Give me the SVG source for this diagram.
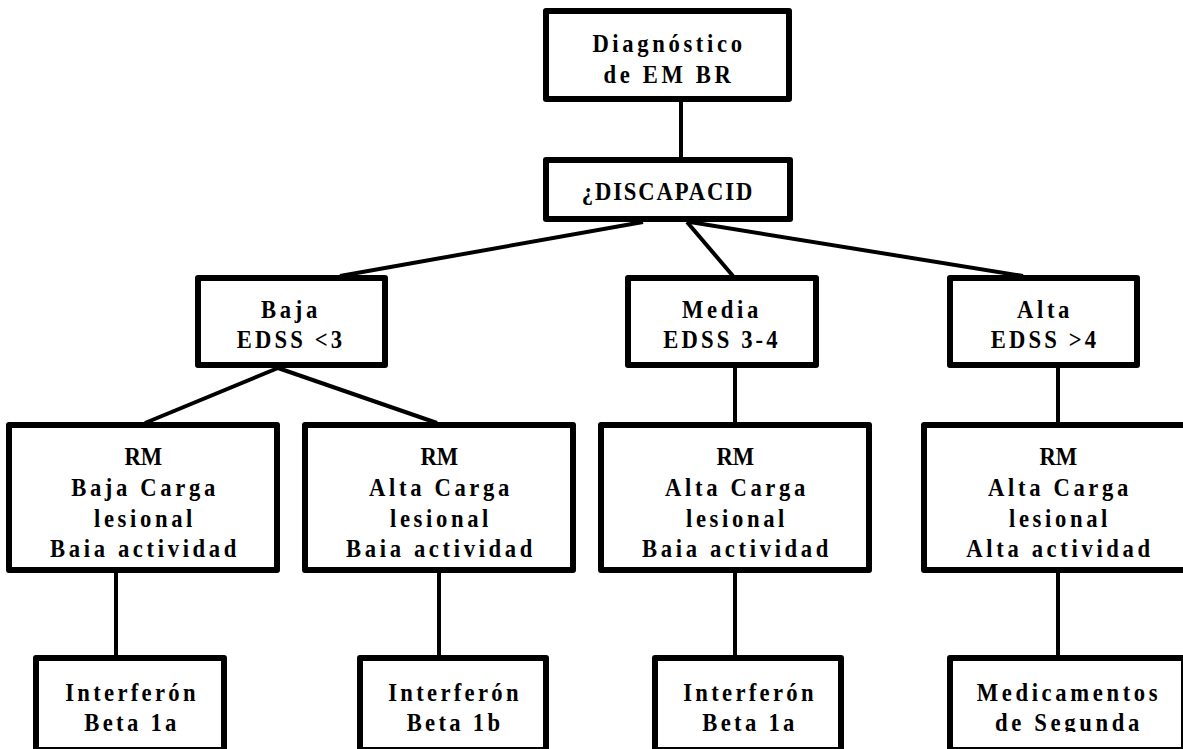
<svg xmlns="http://www.w3.org/2000/svg" width="1183" height="749" viewBox="0 0 1183 749">
<defs>
<style>
.box{fill:#fff;stroke:#000;stroke-width:6;stroke-linejoin:round}
.conn line{stroke:#000;stroke-width:4}
text{font-family:"Liberation Serif","Times New Roman",serif;font-weight:bold;font-size:26px;fill:#000;text-anchor:middle;letter-spacing:4.2px}
.tight{letter-spacing:2.2px}
.ns{letter-spacing:0}
.ed{letter-spacing:3.6px}
.int{letter-spacing:3.8px}
</style>
<clipPath id="clipSeg"><rect x="-200" y="650" width="400" height="82"/></clipPath>
</defs>
<rect width="1183" height="749" fill="#fff"/>
<g id="connectors" class="conn">
<line x1="681" y1="102" x2="681" y2="157"/>
<line x1="643" y1="222" x2="340" y2="276"/>
<line x1="687" y1="222" x2="733" y2="276"/>
<line x1="690" y1="222" x2="1023" y2="276"/>
<line x1="278" y1="368" x2="145" y2="423"/>
<line x1="278" y1="368" x2="437" y2="423"/>
<line x1="735" y1="368" x2="735" y2="423"/>
<line x1="1058" y1="368" x2="1058" y2="423"/>
<line x1="116" y1="573" x2="116" y2="656"/>
<line x1="439" y1="573" x2="439" y2="656"/>
<line x1="735" y1="573" x2="735" y2="656"/>
<line x1="1058" y1="573" x2="1058" y2="656"/>
</g>
<g id="n-diagnostico">
<rect class="box" x="546" y="11" width="243" height="88"/>
<g transform="translate(669 0) scale(0.87 1)">
<text x="0" y="52">Diagnóstico</text>
<text x="0" y="83">de EM BR</text>
</g>
</g>
<g id="n-discapacidad">
<rect class="box" x="546" y="160" width="244" height="59"/>
<g transform="translate(668 0) scale(0.87 1)">
<text class="tight" x="0" y="200">¿DISCAPACID</text>
</g>
</g>
<g id="n-baja">
<rect class="box" x="198" y="278" width="187" height="87"/>
<g transform="translate(291 0) scale(0.87 1)">
<text x="0" y="318">Baja</text>
<text class="ed" x="0" y="348">EDSS &lt;3</text>
</g>
</g>
<g id="n-media">
<rect class="box" x="628" y="278" width="188" height="87"/>
<g transform="translate(722 0) scale(0.87 1)">
<text x="0" y="318">Media</text>
<text class="ed" x="0" y="348">EDSS 3-4</text>
</g>
</g>
<g id="n-alta">
<rect class="box" x="950" y="278" width="187" height="87"/>
<g transform="translate(1045 0) scale(0.87 1)">
<text x="0" y="318">Alta</text>
<text class="ed" x="0" y="348">EDSS &gt;4</text>
</g>
</g>
<g id="n-rm1">
<rect class="box" x="9" y="425" width="268" height="145"/>
<g transform="translate(145 0) scale(0.87 1)">
<text class="ns" x="-2" y="465">RM</text>
<text x="0" y="496">Baja Carga</text>
<text x="0" y="527">lesional</text>
<text x="0" y="557">Baia actividad</text>
</g>
</g>
<g id="n-rm2">
<rect class="box" x="305" y="425" width="268" height="145"/>
<g transform="translate(441 0) scale(0.87 1)">
<text class="ns" x="-2" y="465">RM</text>
<text x="0" y="496">Alta Carga</text>
<text x="0" y="527">lesional</text>
<text x="0" y="557">Baia actividad</text>
</g>
</g>
<g id="n-rm3">
<rect class="box" x="601" y="425" width="268" height="145"/>
<g transform="translate(737 0) scale(0.87 1)">
<text class="ns" x="-2" y="465">RM</text>
<text x="0" y="496">Alta Carga</text>
<text x="0" y="527">lesional</text>
<text x="0" y="557">Baia actividad</text>
</g>
</g>
<g id="n-rm4">
<rect class="box" x="924" y="425" width="268" height="145"/>
<g transform="translate(1060 0) scale(0.87 1)">
<text class="ns" x="-2" y="465">RM</text>
<text x="0" y="496">Alta Carga</text>
<text x="0" y="527">lesional</text>
<text x="0" y="557">Alta actividad</text>
</g>
</g>
<g id="n-int1">
<rect class="box" x="36" y="658" width="188" height="92"/>
<g transform="translate(132 0) scale(0.87 1)">
<text class="int" x="0" y="701">Interferón</text>
<text class="int" x="0" y="731">Beta 1a</text>
</g>
</g>
<g id="n-int2">
<rect class="box" x="360" y="658" width="186" height="92"/>
<g transform="translate(455 0) scale(0.87 1)">
<text class="int" x="0" y="701">Interferón</text>
<text class="int" x="0" y="731">Beta 1b</text>
</g>
</g>
<g id="n-int3">
<rect class="box" x="655" y="658" width="186" height="92"/>
<g transform="translate(750 0) scale(0.87 1)">
<text class="int" x="0" y="701">Interferón</text>
<text class="int" x="0" y="731">Beta 1a</text>
</g>
</g>
<g id="n-medicamentos">
<rect class="box" x="950" y="658" width="234" height="92"/>
<g transform="translate(1069 0) scale(0.87 1)">
<text x="0" y="701">Medicamentos</text>
<text x="0" y="731" clip-path="url(#clipSeg)">de Segunda</text>
</g>
</g>
</svg>
